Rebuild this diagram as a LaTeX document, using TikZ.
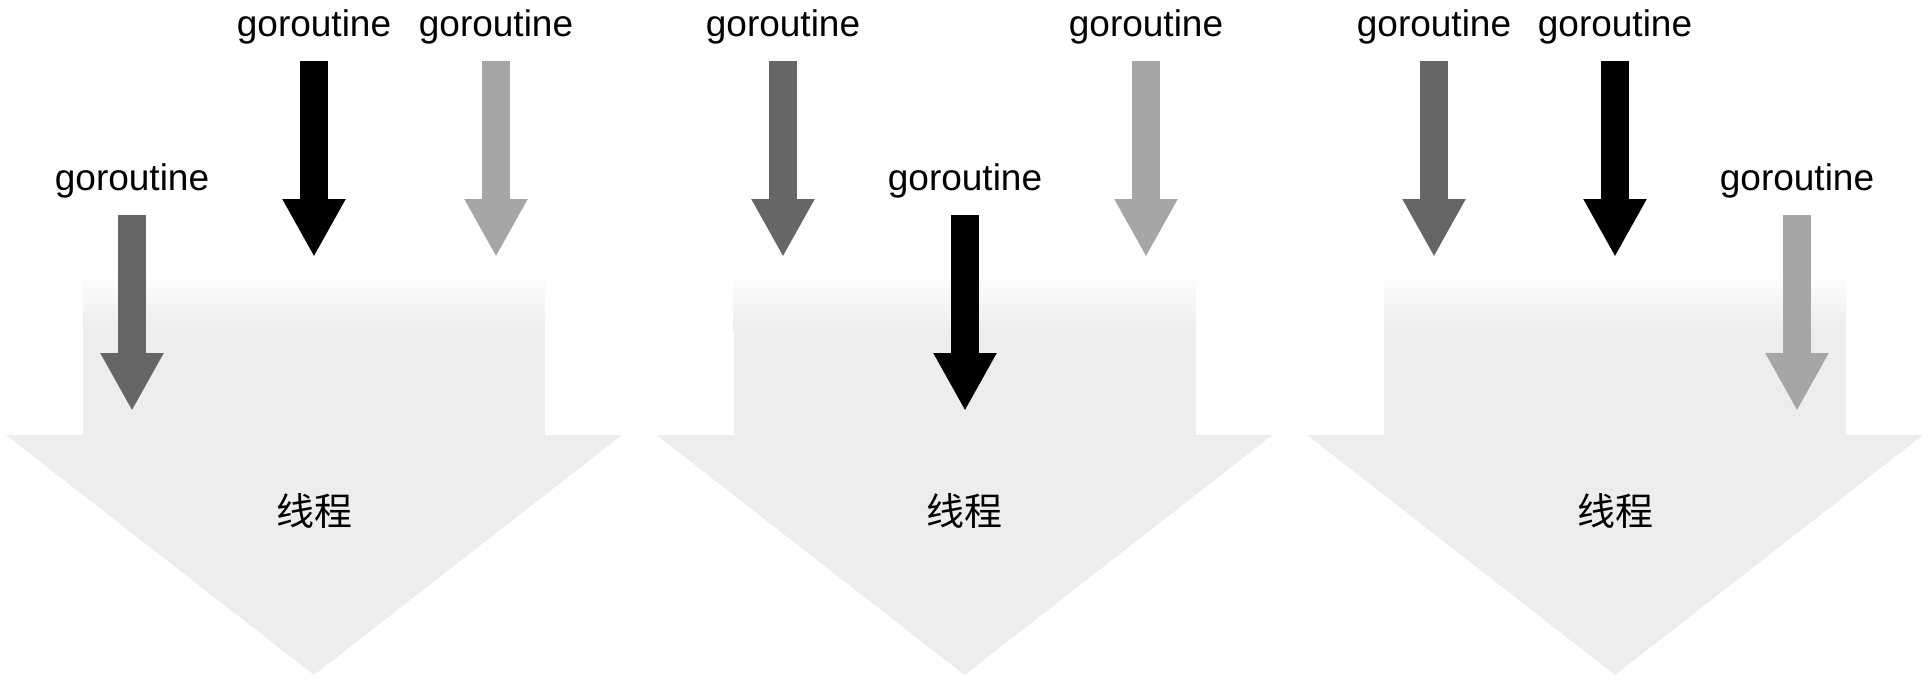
\documentclass[tikz,border=0pt]{standalone}
\usepackage{fontspec}
\setmainfont{Liberation Sans}
\newfontfamily\cjkfont{Noto Sans CJK SC}
\usepackage{tikz}
\usetikzlibrary{arrows.meta}

\definecolor{threadgray}{HTML}{EDEDED}
\definecolor{darkgr}{HTML}{666666}
\definecolor{lightgr}{HTML}{A6A6A6}

\begin{document}
\begin{tikzpicture}[x=1pt, y=-1pt,
    gorlabel/.style={font=\fontsize{37}{44}\selectfont, inner sep=0pt},
    threadlabel/.style={font=\cjkfont\fontsize{38}{44}\selectfont, inner sep=0pt},
    gorarrow/.style={line width=28pt, shorten <=17pt, -{Triangle[width=59pt, length=58pt]}}]

    \useasboundingbox (0,0) rectangle (1930,688);

    % Three big thread arrows (shaft fades in from white at the top)
    \foreach \c/\n in {314/one, 964.5/two, 1615/three} {
        \shade[top color=white, bottom color=threadgray] (\c-231,271) rectangle (\c+231,331);
        \fill[threadgray] (\c-231,330) rectangle (\c+231,436);
        \fill[threadgray] (\c-308,435) -- (\c+308,435) -- (\c,675) -- cycle;
        \node[threadlabel] (thread-\n) at (\c,511) {线程};
    }

    % goroutine labels and the arrows below them
    \foreach \x/\y/\col/\n in {132/214/darkgr/a, 314/60/black/b, 496/60/lightgr/c,
                               783/60/darkgr/d, 965/214/black/e, 1146/60/lightgr/f,
                               1434/60/darkgr/g, 1615/60/black/h, 1797/214/lightgr/i} {
        \node[gorlabel, anchor=south] (gor-\n) at (\x,\y-16) {goroutine};
        \coordinate (tip-\n) at (\x,\y+197);
        \draw[gorarrow, \col] (gor-\n) -- (tip-\n);
    }

\end{tikzpicture}
\end{document}
